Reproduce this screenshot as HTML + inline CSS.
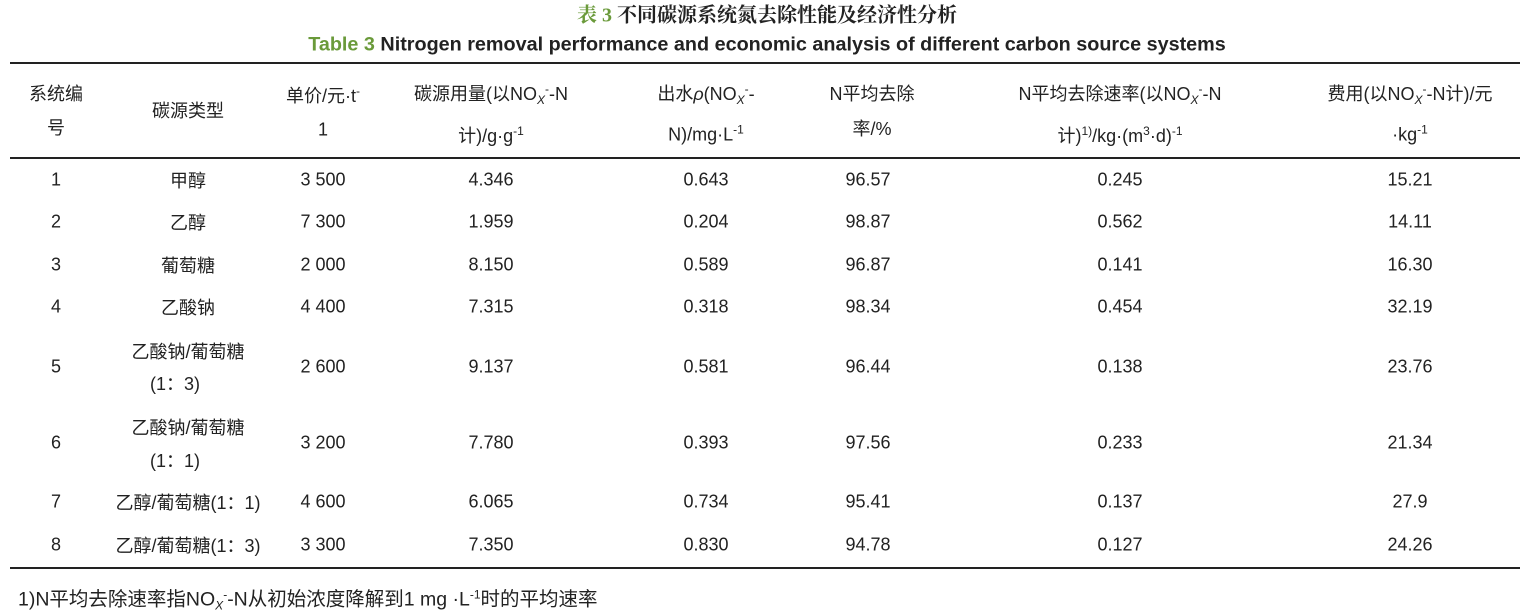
<!DOCTYPE html>
<html><head><meta charset="utf-8"><style>
body{margin:0;width:1526px;height:611px;background:#fff;position:relative;overflow:hidden;font-family:"Liberation Sans","Noto Sans CJK SC",sans-serif;color:#222;}
.c{position:absolute;transform:translate(-50%,-50%);white-space:nowrap;font-size:18px;}
.l{position:absolute;white-space:nowrap;font-size:19.5px;transform:translateY(-50%);}
.r{position:absolute;left:10px;width:1510px;height:2px;background:#222;}
sup{font-size:12px;vertical-align:7px;line-height:0}
sub{font-size:12px;vertical-align:-4px;line-height:0;font-style:italic}
.t{font-family:"Liberation Serif","Noto Serif CJK SC",serif;font-weight:bold;font-size:20px}
.g{color:#6a9a3a}
</style></head><body>
<div class="c t" style="left:767px;top:13px"><span class="g">表 3</span> 不同碳源系统氮去除性能及经济性分析</div>
<div class="c" style="left:767px;top:45px;font-weight:bold;font-size:19.8px"><span class="g">Table 3</span> Nitrogen removal performance and economic analysis of different carbon source systems</div>
<div class="r" style="top:62px"></div>
<div class="r" style="top:157px"></div>
<div class="r" style="top:567px"></div>

<div class="c" style="left:56px;top:93px">系统编</div><div class="c" style="left:56px;top:127px">号</div>
<div class="c" style="left:188px;top:110px">碳源类型</div>
<div class="c" style="left:323px;top:95px">单价/元·t<sup>-</sup></div><div class="c" style="left:323px;top:130px">1</div>
<div class="c" style="left:491px;top:93px">碳源用量(以NO<sub>X</sub><sup>-</sup>-N</div><div class="c" style="left:491px;top:135px">计)/g·g<sup>-1</sup></div>
<div class="c" style="left:706px;top:93px">出水<i>ρ</i>(NO<sub>X</sub><sup>-</sup>-</div><div class="c" style="left:706px;top:135px">N)/mg·L<sup>-1</sup></div>
<div class="c" style="left:872px;top:93px">N平均去除</div><div class="c" style="left:872px;top:128px">率/%</div>
<div class="c" style="left:1120px;top:93px">N平均去除速率(以NO<sub>X</sub><sup>-</sup>-N</div><div class="c" style="left:1120px;top:135px">计)<sup>1)</sup>/kg·(m<sup>3</sup>·d)<sup>-1</sup></div>
<div class="c" style="left:1410px;top:93px">费用(以NO<sub>X</sub><sup>-</sup>-N计)/元</div><div class="c" style="left:1410px;top:135px">·kg<sup>-1</sup></div>

<div class="c" style="left:56px;top:180px">1</div><div class="c" style="left:188px;top:180px">甲醇</div><div class="c" style="left:323px;top:180px">3 500</div><div class="c" style="left:491px;top:180px">4.346</div><div class="c" style="left:706px;top:180px">0.643</div><div class="c" style="left:868px;top:180px">96.57</div><div class="c" style="left:1120px;top:180px">0.245</div><div class="c" style="left:1410px;top:180px">15.21</div>
<div class="c" style="left:56px;top:222px">2</div><div class="c" style="left:188px;top:222px">乙醇</div><div class="c" style="left:323px;top:222px">7 300</div><div class="c" style="left:491px;top:222px">1.959</div><div class="c" style="left:706px;top:222px">0.204</div><div class="c" style="left:868px;top:222px">98.87</div><div class="c" style="left:1120px;top:222px">0.562</div><div class="c" style="left:1410px;top:222px">14.11</div>
<div class="c" style="left:56px;top:265px">3</div><div class="c" style="left:188px;top:265px">葡萄糖</div><div class="c" style="left:323px;top:265px">2 000</div><div class="c" style="left:491px;top:265px">8.150</div><div class="c" style="left:706px;top:265px">0.589</div><div class="c" style="left:868px;top:265px">96.87</div><div class="c" style="left:1120px;top:265px">0.141</div><div class="c" style="left:1410px;top:265px">16.30</div>
<div class="c" style="left:56px;top:307px">4</div><div class="c" style="left:188px;top:307px">乙酸钠</div><div class="c" style="left:323px;top:307px">4 400</div><div class="c" style="left:491px;top:307px">7.315</div><div class="c" style="left:706px;top:307px">0.318</div><div class="c" style="left:868px;top:307px">98.34</div><div class="c" style="left:1120px;top:307px">0.454</div><div class="c" style="left:1410px;top:307px">32.19</div>
<div class="c" style="left:56px;top:367px">5</div><div class="c" style="left:188px;top:351px">乙酸钠/葡萄糖</div><div class="c" style="left:175px;top:383px">(1：3)</div><div class="c" style="left:323px;top:367px">2 600</div><div class="c" style="left:491px;top:367px">9.137</div><div class="c" style="left:706px;top:367px">0.581</div><div class="c" style="left:868px;top:367px">96.44</div><div class="c" style="left:1120px;top:367px">0.138</div><div class="c" style="left:1410px;top:367px">23.76</div>
<div class="c" style="left:56px;top:443px">6</div><div class="c" style="left:188px;top:427px">乙酸钠/葡萄糖</div><div class="c" style="left:175px;top:460px">(1：1)</div><div class="c" style="left:323px;top:443px">3 200</div><div class="c" style="left:491px;top:443px">7.780</div><div class="c" style="left:706px;top:443px">0.393</div><div class="c" style="left:868px;top:443px">97.56</div><div class="c" style="left:1120px;top:443px">0.233</div><div class="c" style="left:1410px;top:443px">21.34</div>
<div class="c" style="left:56px;top:502px">7</div><div class="c" style="left:188px;top:502px">乙醇/葡萄糖(1：1)</div><div class="c" style="left:323px;top:502px">4 600</div><div class="c" style="left:491px;top:502px">6.065</div><div class="c" style="left:706px;top:502px">0.734</div><div class="c" style="left:868px;top:502px">95.41</div><div class="c" style="left:1120px;top:502px">0.137</div><div class="c" style="left:1410px;top:502px">27.9</div>
<div class="c" style="left:56px;top:545px">8</div><div class="c" style="left:188px;top:545px">乙醇/葡萄糖(1：3)</div><div class="c" style="left:323px;top:545px">3 300</div><div class="c" style="left:491px;top:545px">7.350</div><div class="c" style="left:706px;top:545px">0.830</div><div class="c" style="left:868px;top:545px">94.78</div><div class="c" style="left:1120px;top:545px">0.127</div><div class="c" style="left:1410px;top:545px">24.26</div>

<div class="l" style="left:18px;top:597px">1)N平均去除速率指NO<sub>X</sub><sup>-</sup>-N从初始浓度降解到1 mg ·L<sup>-1</sup>时的平均速率</div>
</body></html>
